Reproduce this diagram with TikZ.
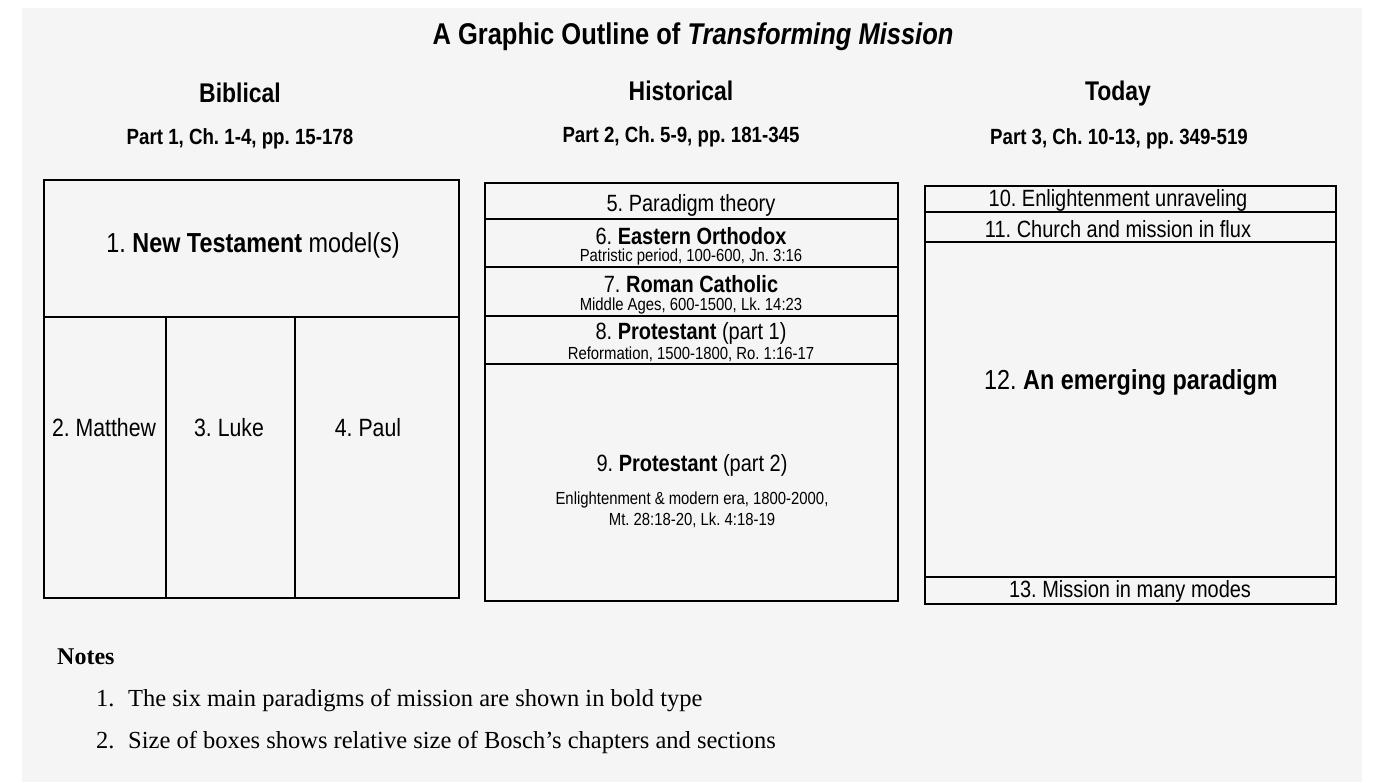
\documentclass[tikz,border=0pt]{standalone}
\usepackage{fontspec}
\setmainfont{Liberation Serif}
\newfontfamily\narrowsans[FakeStretch=0.85]{Liberation Sans}
\newcommand{\sansat}[1]{\narrowsans\fontsize{#1}{#1}\selectfont}
\frenchspacing
\tikzset{
  outline/.style={draw, line width=1.2pt},
  divider/.style={line width=1.1pt},
  title/.style={inner sep=0pt, font={\sansat{30}\bfseries}},
  colhead/.style={inner sep=0pt, font={\sansat{27}\bfseries}},
  parthead/.style={inner sep=0pt, font={\sansat{22}\bfseries}},
  celltext/.style={inner sep=0pt, font={\sansat{25}}},
  bigcell/.style={inner sep=0pt, font={\sansat{27.5}}},
  smallcell/.style={inner sep=0pt, font={\sansat{23.5}}},
  subcell/.style={inner sep=0pt, font={\sansat{17.5}}},
  notetext/.style={inner sep=0pt, anchor=base west, font={\fontsize{24.5}{26}\selectfont}}
}
\begin{document}
\begin{tikzpicture}[x=1pt, y=-1pt]
    \useasboundingbox (0,0) rectangle (1373,782);
    \fill[white] (0,0) rectangle (1373,782);
    \fill[black!4] (22,8) rectangle (1362,782);

    \node[title] (title) at (693,37) {A Graphic Outline of \textit{Transforming Mission}};

    % column headings
    \node[colhead] (biblical) at (240,93) {Biblical};
    \node[colhead] (historical) at (681,91) {Historical};
    \node[colhead] (today) at (1118,94) {Today};
    \node[parthead] (part1) at (240,139) {Part 1, Ch. 1-4, pp. 15-178};
    \node[parthead] (part2) at (681,137) {Part 2, Ch. 5-9, pp. 181-345};
    \node[parthead] (part3) at (1119,139) {Part 3, Ch. 10-13, pp. 349-519};

    % biblical
    \draw[outline] (44,180) rectangle (459,598);
    \draw[divider] (44,317) -- (459,317);
    \draw[divider] (166,317) -- (166,598);
    \draw[divider] (295,317) -- (295,598);
    \node[bigcell] (nt) at (253,245) {1. \textbf{New Testament} model(s)};
    \node[celltext] (matthew) at (104,428) {2. Matthew};
    \node[celltext] (luke) at (229,428) {3. Luke};
    \node[celltext] (paul) at (368,428) {4. Paul};

    % historical
    \draw[outline] (485,183) rectangle (898,601);
    \draw[divider] (485,219) -- (898,219);
    \draw[divider] (485,267) -- (898,267);
    \draw[divider] (485,316) -- (898,316);
    \draw[divider] (485,364) -- (898,364);
    \node[smallcell] (theory) at (691,205) {5. Paradigm theory};
    \node[smallcell] (orthodox) at (691,236) {6. \textbf{Eastern Orthodox}};
    \node[subcell] (orthodoxsub) at (691,257) {Patristic period, 100-600, Jn. 3:16};
    \node[smallcell] (catholic) at (691,284) {7. \textbf{Roman Catholic}};
    \node[subcell] (catholicsub) at (691,306) {Middle Ages, 600-1500, Lk. 14:23};
    \node[smallcell] (prot1) at (691,333) {8. \textbf{Protestant} (part 1)};
    \node[subcell] (prot1sub) at (691,354) {Reformation, 1500-1800, Ro. 1:16-17};
    \node[smallcell] (prot2) at (692,465) {9. \textbf{Protestant} (part 2)};
    \node[subcell, align=center] (prot2sub) at (692,510)
        {Enlightenment \& modern era, 1800-2000,\\[3pt]Mt. 28:18-20, Lk. 4:18-19};

    % today
    \draw[outline] (925,186) rectangle (1336,604);
    \draw[divider] (925,212) -- (1336,212);
    \draw[divider] (925,242) -- (1336,242);
    \draw[divider] (925,577) -- (1336,577);
    \node[smallcell] (unravel) at (1118,200) {10. Enlightenment unraveling};
    \node[smallcell] (flux) at (1118,229) {11. Church and mission in flux};
    \node[bigcell] (emerging) at (1131,382) {12. \textbf{An emerging paradigm}};
    \node[smallcell] (modes) at (1130,591) {13. Mission in many modes};

    % notes
    \node[notetext] (notes) at (57,664) {\fontsize{24}{26}\selectfont\textbf{Notes}};
    \node[notetext] (note1num) at (96,706) {1.};
    \node[notetext] (note1) at (128,706) {The six main paradigms of mission are shown in bold type};
    \node[notetext] (note2num) at (96,748) {2.};
    \node[notetext] (note2) at (128,748) {Size of boxes shows relative size of Bosch’s chapters and sections};
\end{tikzpicture}
\end{document}
